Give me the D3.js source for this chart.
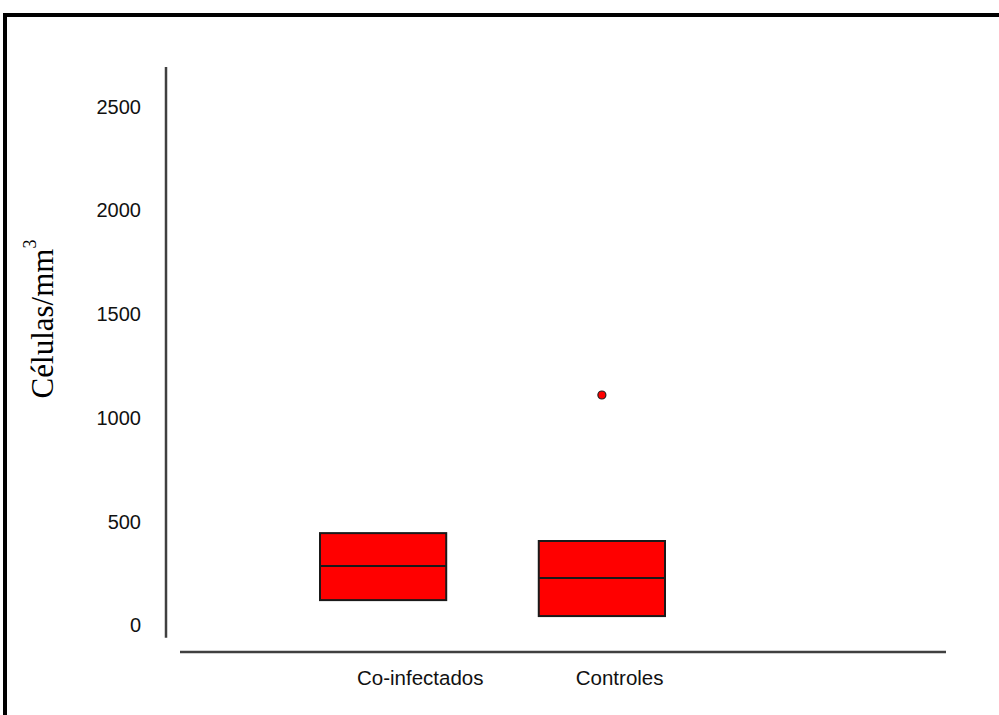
<!DOCTYPE html>
<html>
<head>
<meta charset="utf-8">
<script src="https://cdn.jsdelivr.net/npm/d3@7"></script>
<style>
  body { margin: 0; background: #fff; }
  svg { display: block; }
</style>
</head>
<body>
<script>
// dados
var categories = ["Co-infectados", "Controles"];
var q1 = [120, 43];
var medians = [284, 227];
var q3 = [443, 405];
var outliers = [[1, 1109]]; // [indice da categoria, valor]
var yTicks = [0, 500, 1000, 1500, 2000, 2500];

var width = 999, height = 715;

var svg = d3.select("body").append("svg")
    .attr("width", width)
    .attr("height", height);

// moldura
svg.append("rect")
    .attr("x", 5).attr("y", 15)
    .attr("width", 1100).attr("height", 800)
    .attr("fill", "none")
    .attr("stroke", "#000")
    .attr("stroke-width", 4);

var yScale = d3.scaleLinear().domain([0, 2500]).range([625, 106.5]);
var xScale = d3.scaleBand().domain(categories).range([320, 665])
    .paddingInner(0.423).paddingOuter(0);

// eixo y
svg.append("line")
    .attr("x1", 166).attr("x2", 166)
    .attr("y1", yScale(2690)).attr("y2", yScale(-62))
    .attr("stroke", "#404040").attr("stroke-width", 2.5);

svg.selectAll("text.ytick")
    .data(yTicks)
    .enter()
    .append("text")
    .attr("class", "ytick")
    .attr("x", 141)
    .attr("y", function(d){ return yScale(d); })
    .attr("dy", "0.36em")
    .attr("text-anchor", "end")
    .attr("font-family", "Liberation Sans, Arial, sans-serif")
    .attr("font-size", 20)
    .attr("fill", "#111")
    .text(function(d){ return d; });

// titulo do eixo y
var title = svg.append("text")
    .attr("transform", "translate(53,319) rotate(-90)")
    .attr("text-anchor", "middle")
    .attr("font-family", "Liberation Serif, Times New Roman, serif")
    .attr("font-size", 31)
    .attr("fill", "#000");
title.append("tspan").text("Células/mm");
title.append("tspan").attr("font-size", 18).attr("dy", "-0.95em").text("3");

// eixo x
svg.append("line")
    .attr("x1", 180).attr("x2", 946)
    .attr("y1", 652).attr("y2", 652)
    .attr("stroke", "#404040").attr("stroke-width", 2.5);

svg.selectAll("text.xlab")
    .data(categories)
    .enter()
    .append("text")
    .attr("class", "xlab")
    .attr("x", function(d){ return xScale(d) + 37; })
    .attr("y", 685)
    .attr("font-family", "Liberation Sans, Arial, sans-serif")
    .attr("font-size", 20.5)
    .attr("fill", "#111")
    .text(function(d){ return d; });

// caixas
var boxes = svg.selectAll("g.box")
    .data(categories)
    .enter()
    .append("g")
    .attr("class", "box");

boxes.append("rect")
    .attr("x", function(d){ return xScale(d); })
    .attr("y", function(d, i){ return yScale(q3[i]); })
    .attr("width", xScale.bandwidth())
    .attr("height", function(d, i){ return yScale(q1[i]) - yScale(q3[i]); })
    .attr("fill", "#ff0000")
    .attr("stroke", "#1a1a1a")
    .attr("stroke-width", 2);

boxes.append("line")
    .attr("x1", function(d){ return xScale(d); })
    .attr("x2", function(d){ return xScale(d) + xScale.bandwidth(); })
    .attr("y1", function(d, i){ return yScale(medians[i]); })
    .attr("y2", function(d, i){ return yScale(medians[i]); })
    .attr("stroke", "#1a1a1a")
    .attr("stroke-width", 2);

svg.selectAll("circle.outlier")
    .data(outliers)
    .enter()
    .append("circle")
    .attr("class", "outlier")
    .attr("cx", function(d){ return xScale(categories[d[0]]) + xScale.bandwidth() / 2; })
    .attr("cy", function(d){ return yScale(d[1]); })
    .attr("r", 4)
    .attr("fill", "#ff0000")
    .attr("stroke", "#222")
    .attr("stroke-width", 1.2);
</script>
</body>
</html>
